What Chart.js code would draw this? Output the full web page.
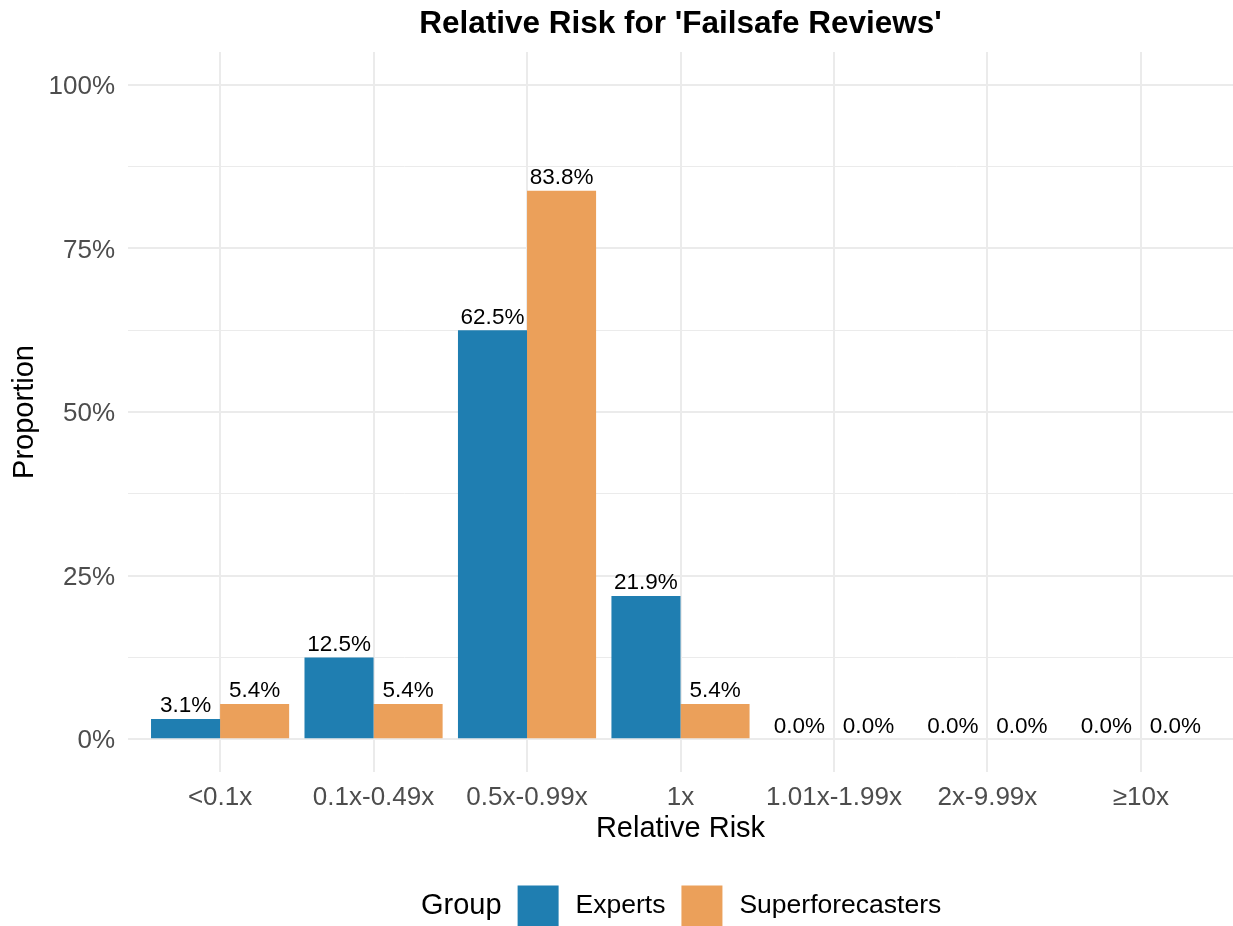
<!DOCTYPE html>
<html>
<head>
<meta charset="utf-8">
<script src="https://cdn.jsdelivr.net/npm/chart.js@4.4.1/dist/chart.umd.min.js"></script>
<style>
  html, body { margin: 0; padding: 0; background: #ffffff; }
  #wrap { width: 1233px; height: 926px; }
</style>
</head>
<body>
<div id="wrap"><canvas id="c" width="1233" height="926"></canvas></div>
<script>
const chartTitle = "Relative Risk for 'Failsafe Reviews'";
const categories = ["<0.1x", "0.1x-0.49x", "0.5x-0.99x", "1x", "1.01x-1.99x", "2x-9.99x", "\u226510x"];
const experts = [3.1, 12.5, 62.5, 21.9, 0.0, 0.0, 0.0];
const superforecasters = [5.4, 5.4, 83.8, 5.4, 0.0, 0.0, 0.0];
const seriesNames = ["Experts", "Superforecasters"];
const seriesColors = ["#1F7EB1", "#EBA05A"];
const yTicks = [0, 25, 50, 75, 100];
const yMinorTicks = [12.5, 37.5, 62.5, 87.5];
const xTitle = "Relative Risk";
const yTitle = "Proportion";
const legendTitle = "Group";

const FONT = "'Liberation Sans', Arial, Helvetica, sans-serif";

const toPoints = arr => arr.map((v, i) => ({ x: i, y: v }));

const labelPlugin = {
  id: 'barLabels',
  afterDatasetsDraw(chart) {
    const ctx = chart.ctx;
    ctx.save();
    ctx.font = "22.5px " + FONT;
    ctx.fillStyle = "#000000";
    ctx.textAlign = "center";
    ctx.textBaseline = "alphabetic";
    chart.data.datasets.forEach((ds, di) => {
      const meta = chart.getDatasetMeta(di);
      meta.data.forEach((bar, i) => {
        const v = ds.data[i].y;
        ctx.fillText(v.toFixed(1) + "%", bar.x, bar.y - 6.5);
      });
    });
    ctx.restore();
  }
};

const decorPlugin = {
  id: 'decor',
  afterDraw(chart) {
    const ctx = chart.ctx;
    const ca = chart.chartArea;
    ctx.save();
    // title
    ctx.font = "bold 31.5px " + FONT;
    ctx.fillStyle = "#000000";
    ctx.textAlign = "center";
    ctx.textBaseline = "middle";
    ctx.fillText(chartTitle, (ca.left + ca.right) / 2, 24);
    // legend
    const cy = 906;
    const sw = 41;
    ctx.textAlign = "left";
    ctx.font = "29px " + FONT;
    let x = 421;
    ctx.fillText(legendTitle, x, cy);
    x += ctx.measureText(legendTitle).width + 16;
    ctx.font = "26.5px " + FONT;
    chart.data.datasets.forEach((ds, di) => {
      ctx.fillStyle = ds.backgroundColor;
      ctx.fillRect(x, cy - sw / 2, sw, sw);
      x += sw + 17;
      ctx.fillStyle = "#000000";
      ctx.fillText(ds.label, x, cy);
      x += ctx.measureText(ds.label).width + 16;
    });
    ctx.restore();
  }
};

new Chart(document.getElementById('c'), {
  type: 'bar',
  data: {
    datasets: [
      { label: seriesNames[0], data: toPoints(experts), backgroundColor: seriesColors[0], borderWidth: 0 },
      { label: seriesNames[1], data: toPoints(superforecasters), backgroundColor: seriesColors[1], borderWidth: 0 }
    ]
  },
  options: {
    responsive: false,
    animation: false,
    devicePixelRatio: 1,
    layout: { padding: { top: 52, right: 0, bottom: 0, left: 0 } },
    datasets: { bar: { categoryPercentage: 0.9, barPercentage: 1.0, grouped: true } },
    plugins: {
      legend: { display: false },
      title: { display: false },
      tooltip: { enabled: false }
    },
    scales: {
      x: {
        type: 'linear',
        min: -0.6,
        max: 6.6,
        offset: false,
        afterBuildTicks(scale) { scale.ticks = categories.map((c, i) => ({ value: i })); },
        afterFit(scale) { scale.height = 154; },
        ticks: {
          autoSkip: false,
          maxRotation: 0,
          padding: 10,
          color: "#4D4D4D",
          font: { family: FONT, size: 26 },
          callback: (v) => categories[Math.round(v)]
        },
        grid: { color: "#EBEBEB", lineWidth: 2, drawTicks: false, offset: false },
        border: { display: false },
        title: {
          display: true,
          text: xTitle,
          color: "#000000",
          font: { family: FONT, size: 29 },
          padding: { top: 0, bottom: 80 }
        }
      },
      y: {
        type: 'linear',
        min: -5,
        max: 105,
        afterBuildTicks(scale) {
          const all = yTicks.concat(yMinorTicks).sort((a, b) => a - b);
          scale.ticks = all.map(v => ({ value: v }));
        },
        afterFit(scale) { scale.width = 128; },
        ticks: {
          padding: 13,
          labelOffset: 2,
          color: "#4D4D4D",
          font: { family: FONT, size: 26 },
          callback: (v) => (yTicks.includes(v) ? v + "%" : "")
        },
        grid: {
          color: "#EBEBEB",
          lineWidth: (c) => (c.tick && yTicks.includes(c.tick.value) ? 2 : 1),
          drawTicks: false
        },
        border: { display: false },
        title: {
          display: true,
          text: yTitle,
          color: "#000000",
          font: { family: FONT, size: 29 },
          padding: { top: 8, bottom: 0 }
        }
      }
    }
  },
  plugins: [labelPlugin, decorPlugin]
});
</script>
</body>
</html>
